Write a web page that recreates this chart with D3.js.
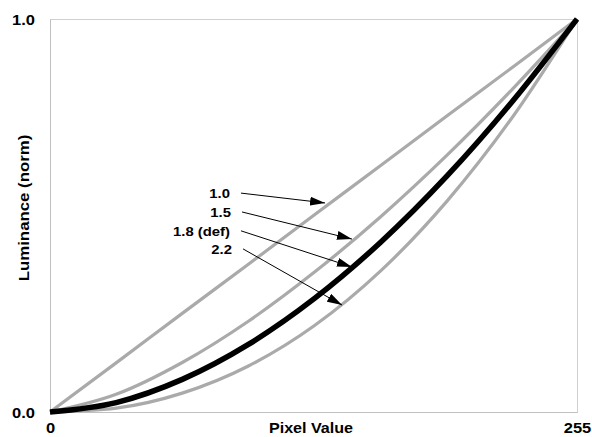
<!DOCTYPE html>
<html>
<head>
<meta charset="utf-8">
<script src="https://cdn.jsdelivr.net/npm/d3@7"></script>
<style>
  body { margin: 0; background: #fff; }
  svg { display: block; font-family: Arial, "Liberation Sans", sans-serif; font-weight: bold; }
</style>
</head>
<body>
<div class="container"></div>
<script>
// pixel values sampled along the curves
const pixels = [0, 32, 64, 96, 128, 160, 192, 224, 255];
// luminance
const gamma10 = [0, 0.125, 0.251, 0.376, 0.502, 0.627, 0.753, 0.878, 1];
const gamma15 = [0, 0.045, 0.126, 0.231, 0.356, 0.497, 0.653, 0.823, 1];
const gamma18 = [0, 0.024, 0.083, 0.172, 0.289, 0.432, 0.600, 0.792, 1];
const gamma22 = [0, 0.010, 0.048, 0.117, 0.220, 0.359, 0.536, 0.752, 1];
const xTicks = [0, 255];
const yTicks = [0, 1];
// annotation labels, arrow tail and arrow tip in data units
const labels = ["1.0", "1.5", "1.8 (def)", "2.2"];
const tails = [[92.4, 0.557], [92.9, 0.509], [92.4, 0.461], [93.4, 0.415]];
const tips = [[133.1, 0.532], [146.1, 0.440], [146.1, 0.369], [141.3, 0.272]];

const W = 592, H = 437;
const pLeft = 50, pRight = 577, pTop = 19, pBottom = 412;

const svg = d3.select(".container")
  .append("svg")
  .attr("width", W)
  .attr("height", H);

const x = d3.scaleLinear().domain([0, 255]).range([pLeft, pRight]);
const y = d3.scaleLinear().domain([0, 1]).range([pBottom, pTop]);

// frame
svg.append("rect")
  .attr("x", pLeft + 0.5)
  .attr("y", pTop + 0.5)
  .attr("width", pRight - pLeft)
  .attr("height", pBottom - pTop)
  .attr("fill", "none")
  .attr("stroke", "#d0d0d0");

// stretch text a bit wider, like the original render
function widen(sel, k) {
  sel.each(function() {
    const len = this.getComputedTextLength();
    d3.select(this).attr("textLength", len * k).attr("lengthAdjust", "spacingAndGlyphs");
  });
}

//Axes
const yAxis = d3.axisLeft(y).tickValues(yTicks).tickSize(0).tickPadding(15).tickFormat(d3.format(".1f"));
const yG = svg.append("g").attr("transform", `translate(${pLeft},0)`).call(yAxis);
const xAxis = d3.axisBottom(x).tickValues(xTicks).tickSize(0).tickPadding(10).tickFormat(d3.format("d"));
const xG = svg.append("g").attr("transform", `translate(0,${pBottom})`).call(xAxis);
[yG, xG].forEach(g => {
  g.select(".domain").attr("stroke", "#c0c0c0");
  g.selectAll("text")
    .attr("font-family", "Arial, 'Liberation Sans', sans-serif")
    .attr("font-weight", "bold")
    .attr("font-size", 15)
    .attr("fill", "#000");
});
yG.selectAll("text").attr("dy", "0.36em");
xG.selectAll("text").attr("dy", "0.71em");
widen(yG.selectAll("text"), 1.1);
widen(xG.selectAll("text"), 1.1);

// axis titles
svg.append("text")
  .attr("x", 311)
  .attr("y", 433)
  .attr("text-anchor", "middle")
  .attr("font-size", 14)
  .text("Pixel Value")
  .call(widen, 1.15);

svg.append("text")
  .attr("transform", "translate(29,208) rotate(-90)")
  .attr("text-anchor", "middle")
  .attr("font-size", 14)
  .text("Luminance (norm)")
  .call(widen, 1.2);

//Curves
const line = d3.line()
  .x((d, i) => x(pixels[i]))
  .y(d => y(d))
  .curve(d3.curveMonotoneX);

[gamma10, gamma15, gamma22].forEach(s => {
  svg.append("path")
    .attr("d", line(s))
    .attr("fill", "none")
    .attr("stroke", "#aaaaaa")
    .attr("stroke-width", 3.2);
});
svg.append("path")
  .attr("d", line(gamma18))
  .attr("fill", "none")
  .attr("stroke", "#000")
  .attr("stroke-width", 5.5);

//Arrows
const defs = svg.append("defs");
defs.append("marker")
  .attr("id", "head")
  .attr("viewBox", "0 0 15 9")
  .attr("refX", 15)
  .attr("refY", 4.5)
  .attr("markerWidth", 15)
  .attr("markerHeight", 9)
  .attr("markerUnits", "userSpaceOnUse")
  .attr("orient", "auto")
  .append("path")
  .attr("d", "M0,0 L15,4.5 L0,9 Z")
  .attr("fill", "#000");

svg.selectAll(".arrow")
  .data(labels)
  .enter()
  .append("line")
  .attr("class", "arrow")
  .attr("x1", (d, i) => x(tails[i][0]))
  .attr("y1", (d, i) => y(tails[i][1]))
  .attr("x2", (d, i) => x(tips[i][0]))
  .attr("y2", (d, i) => y(tips[i][1]))
  .attr("stroke", "#000")
  .attr("stroke-width", 1)
  .attr("marker-end", "url(#head)");

svg.selectAll(".lab")
  .data(labels)
  .enter()
  .append("text")
  .attr("class", "lab")
  .attr("x", (d, i) => x(tails[i][0]) - 11)
  .attr("y", (d, i) => y(tails[i][1]) + 5)
  .attr("text-anchor", "end")
  .attr("font-size", 13.5)
  .text(d => d)
  .call(widen, 1.1);
</script>
</body>
</html>
